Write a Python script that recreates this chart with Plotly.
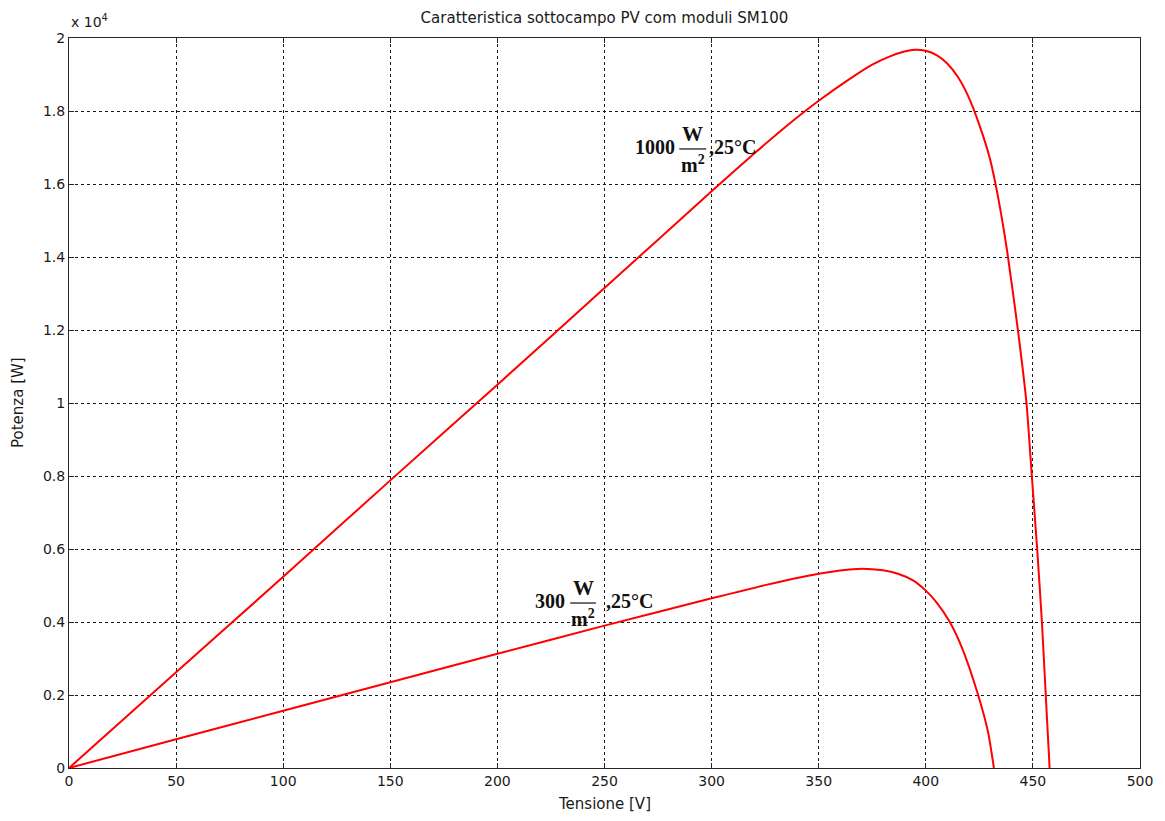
import plotly.graph_objects as go

# P-V characteristic at 1000 W/m^2, 25 °C
v_1000 = [0, 50, 100, 150, 200, 250, 300, 320, 335, 350, 364, 375, 383, 390,
          395, 400, 405, 410, 415, 420, 425, 430, 434, 438, 443, 447, 449.5,
          452, 454.2, 456, 457.8]
p_1000 = [0, 2620, 5240, 7880, 10500, 13150, 15800, 16840, 17590, 18280,
          18860, 19270, 19490, 19630, 19680, 19650, 19530, 19300, 18930,
          18380, 17620, 16680, 15560, 14150, 12000, 10000, 8000, 6000, 4000,
          2000, 0]

# P-V characteristic at 300 W/m^2, 25 °C
v_300 = [0, 50, 100, 150, 200, 250, 300, 325, 350, 360, 370, 380, 387, 394,
         400, 405, 411, 417, 424, 429, 431.8]
p_300 = [0, 790, 1570, 2350, 3130, 3900, 4650, 5010, 5320, 5410, 5460, 5415,
         5320, 5140, 4860, 4540, 4020, 3280, 2080, 1000, 0]

x_ticks = [0, 50, 100, 150, 200, 250, 300, 350, 400, 450, 500]
y_ticks = [0, 2000, 4000, 6000, 8000, 10000, 12000, 14000, 16000, 18000, 20000]
y_tick_text = ["0", "0.2", "0.4", "0.6", "0.8", "1", "1.2", "1.4", "1.6", "1.8", "2"]

RED = "#ff0000"
INK = "#1a1a1a"
SERIF = "Liberation Serif, Times New Roman, serif"
SANS = "DejaVu Sans, Arial, Helvetica, sans-serif"

fig = go.Figure()
for v, p in ((v_1000, p_1000), (v_300, p_300)):
    fig.add_trace(go.Scatter(x=v, y=p, mode="lines",
                             line=dict(color=RED, width=2, shape="spline", smoothing=0.6),
                             showlegend=False, hoverinfo="x+y"))

axis_common = dict(
    showline=True, linecolor="#262626", linewidth=1, mirror="ticks",
    ticks="inside", ticklen=5, tickcolor="#262626",
    showgrid=True, gridcolor=INK, gridwidth=1, griddash="3px,3px",
    zeroline=False, tickfont=dict(family=SANS, size=14, color=INK),
)

fig.update_xaxes(range=[0, 500], tickvals=x_ticks, **axis_common)
fig.update_yaxes(range=[0, 20000], tickvals=y_ticks, ticktext=y_tick_text, **axis_common)


def irradiance_label(value, x_num, x_frac, x_tail, y_mid, frac_half):
    """Draw '<value> W/m² ,25°C' with a stacked fraction."""
    font = dict(family=SERIF, size=20, color="#111111")
    fig.add_annotation(x=x_num, y=y_mid, text=f"<b>{value}</b>", showarrow=False,
                       xanchor="right", yanchor="middle", yshift=2, font=font)
    fig.add_annotation(x=x_frac, y=y_mid, text="<b>W</b>", showarrow=False,
                       xanchor="center", yanchor="bottom", yshift=1,
                       font=dict(family=SERIF, size=21, color="#111111"))
    fig.add_annotation(x=x_frac, y=y_mid, text="<b>m<sup>2</sup></b>", showarrow=False,
                       xanchor="center", yanchor="top", yshift=-1, font=font)
    fig.add_shape(type="line", x0=x_frac - frac_half, x1=x_frac + frac_half,
                  y0=y_mid, y1=y_mid, line=dict(color="#111111", width=1.2))
    fig.add_annotation(x=x_tail, y=y_mid, text="<b>,25°C</b>", showarrow=False,
                       xanchor="left", yanchor="middle", yshift=2, font=font)


irradiance_label("1000", 284.0, 291.2, 297.8, 16960, 6.3)
irradiance_label("300", 232.6, 240.0, 249.6, 4520, 6.0)

# exponent marker of the power axis
fig.add_annotation(xref="paper", yref="paper", x=0, y=1, xanchor="left", yanchor="bottom",
                   yshift=6, text="x 10<sup>4</sup>", showarrow=False,
                   font=dict(family=SANS, size=14, color=INK))

# axis titles
fig.add_annotation(xref="paper", yref="paper", x=0.5, y=0, xanchor="center", yanchor="middle",
                   yshift=-36, text="Tensione [V]", showarrow=False,
                   font=dict(family=SANS, size=15, color=INK))
fig.add_annotation(xref="paper", yref="paper", x=0, y=0.5, xanchor="center", yanchor="middle",
                   xshift=-51, textangle=-90, text="Potenza [W]", showarrow=False,
                   font=dict(family=SANS, size=15, color=INK))

fig.update_layout(
    width=1165, height=821,
    margin=dict(l=69, r=22, t=38, b=53),
    paper_bgcolor="white", plot_bgcolor="white",
    title=dict(text="Caratteristica sottocampo PV com moduli SM100",
               x=0.5, xref="paper", xanchor="center",
               y=1 - 18 / 821, yanchor="middle",
               font=dict(family=SANS, size=15, color=INK)),
)

fig.write_html("out.html")
